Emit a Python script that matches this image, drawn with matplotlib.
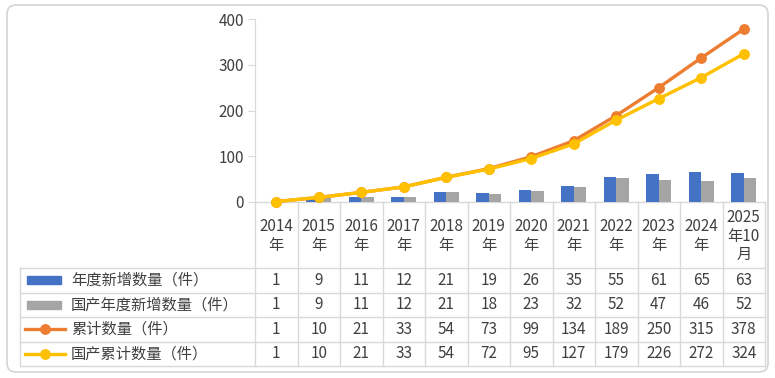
import matplotlib.pyplot as plt
import numpy as np
from matplotlib.patches import FancyBboxPatch, Rectangle
from matplotlib.lines import Line2D

plt.rcParams['font.family'] = ['Noto Sans CJK SC', 'DejaVu Sans']

# data
years = ["2014\n年", "2015\n年", "2016\n年", "2017\n年", "2018\n年", "2019\n年",
         "2020\n年", "2021\n年", "2022\n年", "2023\n年", "2024\n年", "2025\n年10\n月"]
new_total = [1, 9, 11, 12, 21, 19, 26, 35, 55, 61, 65, 63]
new_domestic = [1, 9, 11, 12, 21, 18, 23, 32, 52, 47, 46, 52]
cum_total = [1, 10, 21, 33, 54, 73, 99, 134, 189, 250, 315, 378]
cum_domestic = [1, 10, 21, 33, 54, 72, 95, 127, 179, 226, 272, 324]

series_names = ["年度新增数量（件）", "国产年度新增数量（件）", "累计数量（件）", "国产累计数量（件）"]
c_blue, c_gray, c_orange, c_yellow = "#4472C4", "#A5A5A5", "#ED7D31", "#FFC000"
grid_c = "#D9D9D9"
txt_c = "#404040"
fs = 11

W, H = 775, 378
fig = plt.figure(figsize=(W / 100, H / 100), dpi=100)

# pixel layout
px_left, px_right = 255, 765
px_top, px_zero = 19, 202
row_lines = [268, 292.5, 317, 341.5, 366]
tab_left = 20

# overlay for frame and table
ov = fig.add_axes([0, 0, 1, 1])
ov.set_xlim(0, W)
ov.set_ylim(H, 0)
ov.axis("off")
ov.add_patch(FancyBboxPatch((7, 5), 761, 367, boxstyle="round,pad=0,rounding_size=9",
                            fc="white", ec="#D4D4D4", lw=1.2))

ax = fig.add_axes([px_left / W, (H - px_zero) / H, (px_right - px_left) / W, (px_zero - px_top) / H])
ax.patch.set_alpha(0)
n = len(years)
x = np.arange(n)
bw = 0.295
ax.bar(x - bw / 2, new_total, width=bw, color=c_blue, zorder=2)
ax.bar(x + bw / 2, new_domestic, width=bw, color=c_gray, zorder=2)
ax.plot(x, cum_total, color=c_orange, lw=2.4, marker="o", ms=6.8, zorder=3, clip_on=False)
ax.plot(x, cum_domestic, color=c_yellow, lw=2.4, marker="o", ms=6.8, zorder=4, clip_on=False)
ax.set_xlim(-0.5, n - 0.5)
ax.set_ylim(0, 400)
ax.set_yticks([0, 100, 200, 300, 400])
ax.set_xticks([])
for s in ["top", "right", "bottom"]:
    ax.spines[s].set_visible(False)
ax.spines["left"].set_color(grid_c)
ax.tick_params(axis="y", colors=grid_c, labelcolor=txt_c, labelsize=fs, length=5, pad=3)

# table lines
colw = (px_right - px_left) / n
for k in range(n + 1):
    xx = px_left + colw * k
    ov.add_line(Line2D([xx, xx], [px_zero, row_lines[-1]], color=grid_c, lw=1))
ov.add_line(Line2D([tab_left, tab_left], [row_lines[0], row_lines[-1]], color=grid_c, lw=1))
ov.add_line(Line2D([px_left, px_right], [px_zero, px_zero], color=grid_c, lw=1))
for yy in row_lines:
    ov.add_line(Line2D([tab_left, px_right], [yy, yy], color=grid_c, lw=1))

# category labels
for k, lab in enumerate(years):
    ov.text(px_left + colw * (k + 0.5), (px_zero + row_lines[0]) / 2 + 1, lab, ha="center", va="center",
            fontsize=fs, color=txt_c, linespacing=1.1)

# data rows with legend keys
rows = [new_total, new_domestic, cum_total, cum_domestic]
colors = [c_blue, c_gray, c_orange, c_yellow]
for r, (vals, name, c) in enumerate(zip(rows, series_names, colors)):
    yc = (row_lines[r] + row_lines[r + 1]) / 2
    if r < 2:
        ov.add_patch(Rectangle((27, yc - 4), 34, 8, color=c))
    else:
        ov.add_line(Line2D([25, 65], [yc, yc], color=c, lw=2.4))
        ov.add_line(Line2D([45], [yc], color=c, marker="o", ms=6.8))
    ov.text(71, yc, name, ha="left", va="center", fontsize=fs, color=txt_c)
    for k, v in enumerate(vals):
        ov.text(px_left + colw * (k + 0.5), yc, str(v), ha="center", va="center",
                fontsize=fs, color=txt_c)

fig.savefig("out.png", dpi=100)
